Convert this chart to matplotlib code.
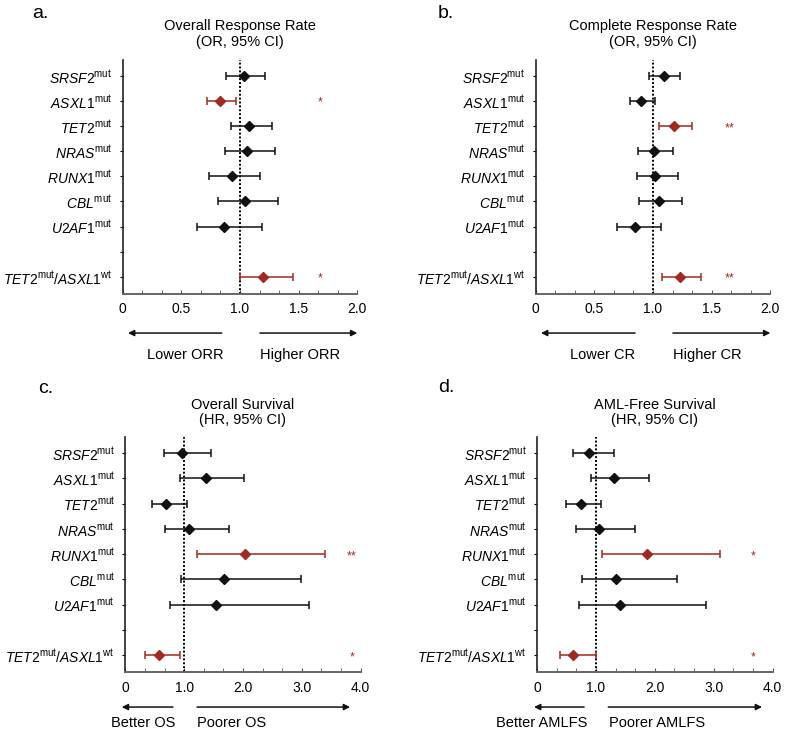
import numpy as np
import matplotlib
matplotlib.use('Agg')
import matplotlib.pyplot as plt
from matplotlib.transforms import ScaledTranslation

plt.rcParams['font.family'] = ['Liberation Sans', 'DejaVu Sans']
plt.rcParams['mathtext.fontset'] = 'custom'
plt.rcParams['mathtext.rm'] = 'Liberation Sans'
plt.rcParams['mathtext.it'] = 'Liberation Sans:italic'

# row labels (position 8 is an empty spacer row)
genes = ['SRSF2', 'ASXL1', 'TET2', 'NRAS', 'RUNX1', 'CBL', 'U2AF1']
rows = [1, 2, 3, 4, 5, 6, 7, 9]
labels = [r'$\mathit{%s}^{\mathrm{mut}}$' % g for g in genes] + \
         [r'$\mathit{TET2}^{\mathrm{mut}}\mathit{/ASXL1}^{\mathrm{wt}}$']

# a. overall response rate (OR)
orr_est = [1.03, 0.83, 1.08, 1.06, 0.93, 1.04, 0.86, 1.20]
orr_lo = [0.88, 0.72, 0.92, 0.87, 0.74, 0.81, 0.63, 1.00]
orr_hi = [1.21, 0.97, 1.27, 1.30, 1.17, 1.32, 1.19, 1.45]
orr_sig = ['', '*', '', '', '', '', '', '*']

# b. complete response rate (OR)
cr_est = [1.09, 0.90, 1.18, 1.01, 1.02, 1.05, 0.85, 1.23]
cr_lo = [0.97, 0.80, 1.05, 0.87, 0.86, 0.88, 0.69, 1.08]
cr_hi = [1.23, 1.02, 1.33, 1.17, 1.21, 1.25, 1.07, 1.41]
cr_sig = ['', '', '**', '', '', '', '', '**']

# c. overall survival (HR)
os_est = [0.97, 1.37, 0.70, 1.09, 2.03, 1.68, 1.54, 0.57]
os_lo = [0.65, 0.93, 0.46, 0.67, 1.22, 0.94, 0.76, 0.34]
os_hi = [1.45, 2.01, 1.05, 1.76, 3.40, 2.98, 3.13, 0.93]
os_sig = ['', '', '', '', '**', '', '', '*']

# d. AML-free survival (HR)
lfs_est = [0.89, 1.31, 0.74, 1.05, 1.86, 1.34, 1.41, 0.61]
lfs_lo = [0.61, 0.91, 0.50, 0.66, 1.11, 0.76, 0.71, 0.39]
lfs_hi = [1.30, 1.90, 1.09, 1.67, 3.11, 2.37, 2.86, 1.00]
lfs_sig = ['', '', '', '', '*', '', '', '*']

RED = '#9e2a22'
BLK = '#111111'

fig = plt.figure(figsize=(7.87, 7.32), dpi=100)
lift = ScaledTranslation(0, 2.2 / 72, fig.dpi_scale_trans)


def panel(rect, est, lo, hi, sig, xmax, star_x, title, letter, letter_xy,
          left_txt, right_txt, arr_y, txt_y, left_arr, right_arr, lx, rx, title_y):
    ax = fig.add_axes(rect)
    for i in range(len(est)):
        c = RED if sig[i] else BLK
        ax.errorbar(est[i], rows[i], xerr=[[est[i] - lo[i]], [hi[i] - est[i]]],
                    fmt='D', color=c, ms=5, elinewidth=1.1, capsize=3.2,
                    capthick=1.1, zorder=3)
        if sig[i]:
            ax.text(star_x, rows[i] + 0.08, sig[i], color=RED, fontsize=9,
                    ha='center', va='center')
    ax.axvline(1.0, color='black', ls=(0, (1, 1)), lw=1.4, zorder=2)
    ax.set_xlim(0, xmax)
    ax.set_ylim(9.68, 0.37)
    ax.set_yticks([1, 2, 3, 4, 5, 6, 7, 8, 9])
    ax.set_yticklabels(labels[:7] + [''] + labels[7:], fontsize=10)
    for t in ax.get_yticklabels():
        t.set_transform(t.get_transform() + lift)
    ax.set_xticks(np.linspace(0, xmax, 5))
    ax.set_xticks(np.linspace(0, xmax, 13), minor=True)
    ax.set_xticklabels(['0'] + ['%.1f' % v for v in np.linspace(0, xmax, 5)[1:]])
    ax.tick_params(axis='x', which='both', direction='in', length=3,
                   labelsize=10, pad=6, color='#555555')
    ax.tick_params(axis='y', direction='out', length=2.5, pad=5)
    ax.spines['top'].set_visible(False)
    ax.spines['right'].set_visible(False)
    ax.spines['bottom'].set_color('#666666')
    ax.spines['bottom'].set_linewidth(1.4)
    ax.spines['left'].set_color('#222222')
    ax.spines['left'].set_linewidth(1.2)
    ax.text(0.5, title_y, title, transform=ax.transAxes, ha='center',
            va='center', fontsize=10.5, linespacing=1.15)
    fig.text(letter_xy[0], letter_xy[1], letter, fontsize=14, ha='center', va='center')
    tr = ax.get_xaxis_transform()
    for a in (left_arr, right_arr):
        ax.annotate('', xy=(a[1], arr_y), xytext=(a[0], arr_y), xycoords=tr,
                    textcoords=tr, annotation_clip=False,
                    arrowprops=dict(arrowstyle='-|>', color='#111111', lw=1.1,
                                    mutation_scale=9, shrinkA=0, shrinkB=0))
    ax.text(lx, txt_y, left_txt, transform=tr, ha='center', va='center', fontsize=10.5)
    ax.text(rx, txt_y, right_txt, transform=tr, ha='center', va='center', fontsize=10.5)
    return ax


panel([0.1559, 0.5984, 0.2981, 0.3197], orr_est, orr_lo, orr_hi, orr_sig, 2.0, 1.68,
      'Overall Response Rate\n(OR, 95% CI)', 'a.', (0.0508, 0.982),
      'Lower ORR', 'Higher ORR', -0.167, -0.26, (0.844, 0.045), (1.17, 2.0),
      0.53, 1.51, 1.111)
panel([0.6807, 0.5984, 0.2981, 0.3197], cr_est, cr_lo, cr_hi, cr_sig, 2.0, 1.655,
      'Complete Response Rate\n(OR, 95% CI)', 'b.', (0.567, 0.982),
      'Lower CR', 'Higher CR', -0.167, -0.26, (0.847, 0.045), (1.17, 2.0),
      0.57, 1.46, 1.111)
panel([0.1592, 0.0816, 0.2991, 0.321], os_est, os_lo, os_hi, os_sig, 4.0, 3.85,
      'Overall Survival\n(HR, 95% CI)', 'c.', (0.058, 0.469),
      'Better OS', 'Poorer OS', -0.148, -0.216, (0.81, -0.06), (1.22, 3.82),
      0.30, 1.81, 1.106)
panel([0.6823, 0.0816, 0.2995, 0.321], lfs_est, lfs_lo, lfs_hi, lfs_sig, 4.0, 3.67,
      'AML-Free Survival\n(HR, 95% CI)', 'd.', (0.567, 0.471),
      'Better AMLFS', 'Poorer AMLFS', -0.148, -0.216, (0.80, -0.05), (1.21, 3.82),
      0.08, 2.04, 1.106)

fig.savefig('out.png', dpi=100)
